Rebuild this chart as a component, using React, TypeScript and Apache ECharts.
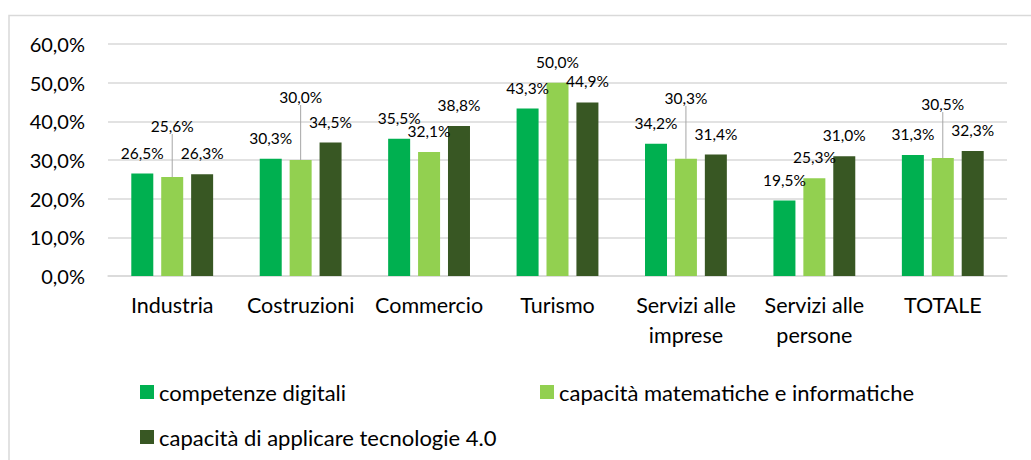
import React, { useEffect, useRef } from "react";
import * as echarts from "echarts";

const categories = [
  "Industria",
  "Costruzioni",
  "Commercio",
  "Turismo",
  "Servizi alle\nimprese",
  "Servizi alle\npersone",
  "TOTALE",
];
const seriesNames = [
  "competenze digitali",
  "capacità matematiche e informatiche",
  "capacità di applicare tecnologie 4.0",
];
const competenzeDigitali = [26.5, 30.3, 35.5, 43.3, 34.2, 19.5, 31.3];
const capacitaMatematiche = [25.6, 30.0, 32.1, 50.0, 30.3, 25.3, 30.5];
const tecnologie40 = [26.3, 34.5, 38.8, 44.9, 31.4, 31.0, 32.3];

// style: extra upward shift (px) of the middle series labels that have a leader line
const middleLabelLift = [30, 42, 0, 0, 40, 0, 33];

const colors = ["#00B050", "#92D050", "#385723"];
const FONT = "Lato, sans-serif";

const fmt = (v: number) => v.toFixed(1).replace(".", ",") + "%";

export default function App() {
  const ref = useRef<HTMLDivElement>(null);
  useEffect(() => {
    if (!ref.current) return;
    const chart = echarts.init(ref.current, null, { renderer: "svg" });
    const labelBase = {
      show: true,
      position: "top",
      distance: 13,
      color: "#000",
      fontFamily: FONT,
      fontSize: 15.5,
      formatter: (p: any) => fmt(p.value),
    };
    const values = [competenzeDigitali, capacitaMatematiche, tecnologie40];
    const series = values.map((arr, si) => ({
      type: "bar",
      name: seriesNames[si],
      barWidth: 22,
      barGap: "36%",
      itemStyle: { color: colors[si] },
      label: labelBase,
      labelLine: { show: false, lineStyle: { color: "#A6A6A6", width: 1 } },
      labelLayout:
        si === 1
          ? (params: any) => {
              const lift = middleLabelLift[params.dataIndex];
              return lift ? { dy: -lift } : {};
            }
          : undefined,
      data: arr.map((v, i) =>
        si === 1 && middleLabelLift[i]
          ? { value: v, labelLine: { show: true, lineStyle: { color: "#A6A6A6", width: 1 } } }
          : { value: v }
      ),
    }));
    const legendBase = {
      icon: "rect",
      itemWidth: 14,
      itemHeight: 14,
      itemGap: 0,
      textStyle: { fontFamily: FONT, fontSize: 22, color: "#000" },
    };
    chart.setOption({
      animation: false,
      backgroundColor: "#fff",
      textStyle: { fontFamily: FONT },
      graphic: [
        {
          type: "rect",
          shape: { x: 9, y: 15.5, width: 1040, height: 460 },
          style: { fill: "none", stroke: "#D9D9D9", lineWidth: 1.5 },
          silent: true,
        },
      ],
      legend: [
        { ...legendBase, data: [seriesNames[0]], left: 135, top: 376 },
        { ...legendBase, data: [seriesNames[1]], left: 535, top: 376 },
        { ...legendBase, data: [seriesNames[2]], left: 135, top: 421 },
      ],
      grid: { left: 108, right: 24, top: 44, bottom: 184, containLabel: false },
      xAxis: {
        type: "category",
        data: categories,
        axisTick: { show: false },
        axisLine: { lineStyle: { color: "#D9D9D9", width: 1.5 } },
        axisLabel: {
          color: "#000",
          fontFamily: FONT,
          fontSize: 21.5,
          lineHeight: 30,
          margin: 14,
          interval: 0,
        },
      },
      yAxis: {
        type: "value",
        min: 0,
        max: 60,
        interval: 10,
        axisLine: { show: false },
        axisTick: { show: false },
        splitLine: { lineStyle: { color: "#D9D9D9", width: 1.5 } },
        axisLabel: {
          color: "#000",
          fontFamily: FONT,
          fontSize: 20,
          margin: 23,
          formatter: (v: number) => fmt(v),
        },
      },
      series,
    });
    return () => chart.dispose();
  }, []);
  return (
    <div
      ref={ref}
      style={{ position: "absolute", left: 0, top: 0, width: 1031, height: 460, background: "#fff" }}
    />
  );
}
